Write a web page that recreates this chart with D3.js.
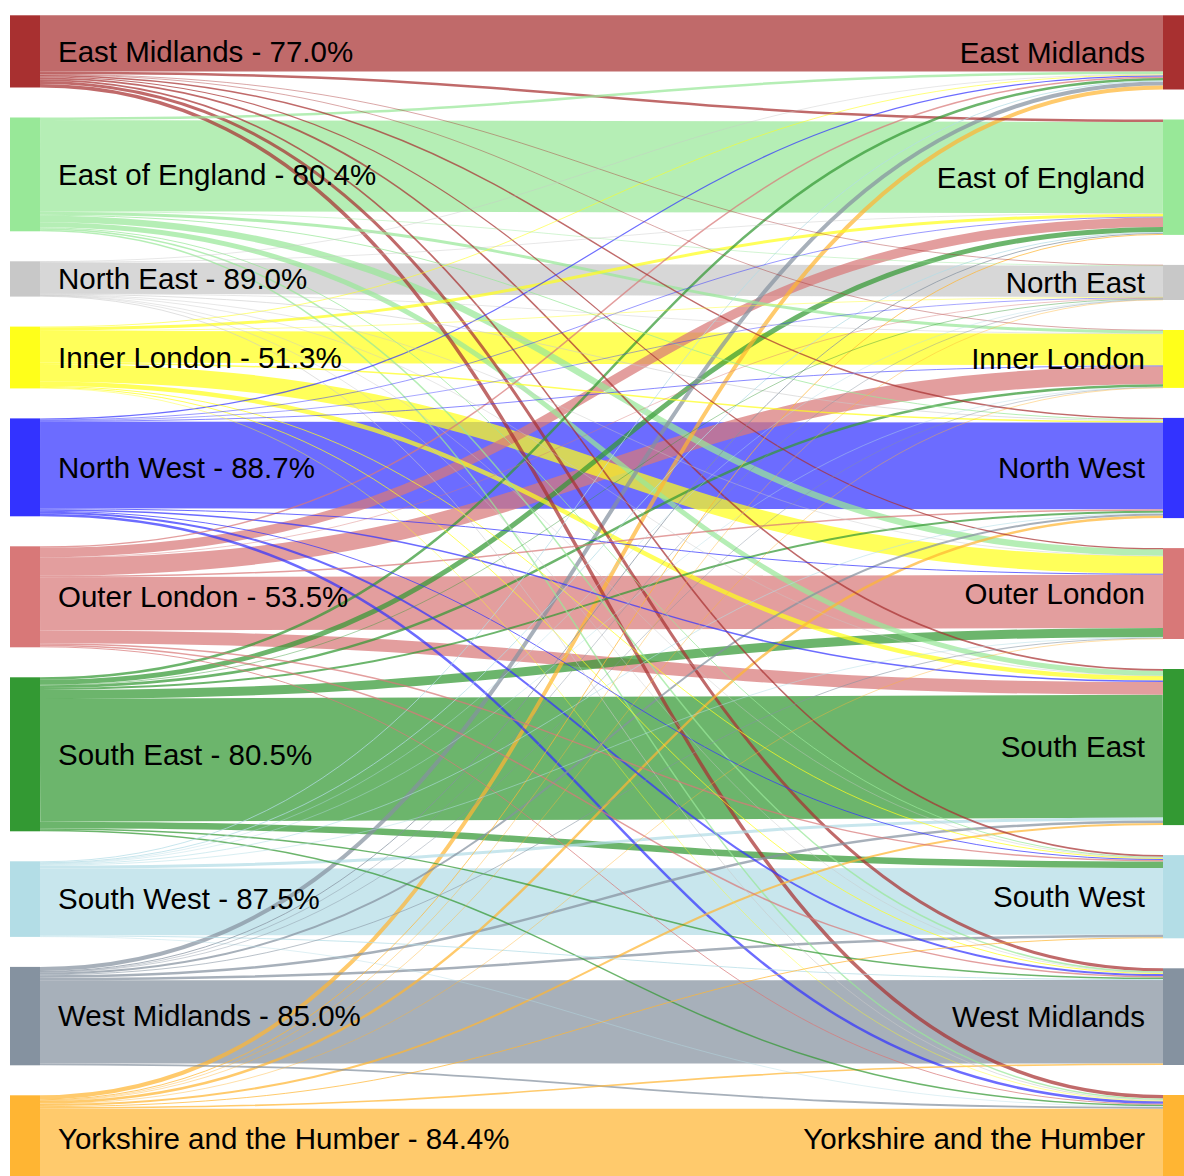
<!DOCTYPE html>
<html>
<head>
<meta charset="utf-8">
<script src="https://cdn.jsdelivr.net/npm/d3@7"></script>
<style>
  body { margin: 0; background: #fff; }
  svg text { font-family: "Liberation Sans", Arial, sans-serif; }
</style>
</head>
<body>
<div id="chart-area"></div>
<script>
/* Regions, in the order they are stacked (same order on both sides) */
var regions = ["East Midlands", "East of England", "North East", "Inner London", "North West",
    "Outer London", "South East", "South West", "West Midlands", "Yorkshire and the Humber"];

/* Share that stays in the same region, as printed on the left labels */
var retention = [77.0, 80.4, 89.0, 51.3, 88.7, 53.5, 80.5, 87.5, 85.0, 84.4];

/* Node colours, one per region */
var colors = ["#a83030", "#98e898", "#c8c8c8", "#ffff1a", "#3333ff",
    "#d87878", "#339933", "#b3dde6", "#8592a0", "#ffb533"];

/* Flows from each region (row) to every region (same order as regions) */
var fromEastMidlands = [56.2, 2.5, 0.5, 0.5, 1.4, 1.2, 1.7, 1.7, 3.0, 3.5];
var fromEastOfEngland = [2.5, 91.2, 0.6, 3.0, 1.0, 6.5, 5.0, 1.0, 1.5, 1.5];
var fromNorthEast = [0.5, 0.5, 31.2, 0.3, 0.8, 0.4, 0.3, 0.2, 0.3, 0.8];
var fromInnerLondon = [0.8, 3.0, 0.3, 31.7, 1.5, 17.5, 4.5, 1.0, 1.0, 0.5];
var fromNorthWest = [1.2, 0.7, 0.5, 0.8, 86.7, 1.0, 1.5, 1.0, 2.0, 2.5];
var fromOuterLondon = [1.5, 9.5, 0.5, 18.0, 1.5, 53.3, 12.7, 1.5, 1.5, 1.0];
var fromSouthEast = [2.5, 5.0, 0.6, 2.5, 2.0, 9.0, 122.9, 6.5, 1.5, 1.5];
var fromSouthWest = [1.0, 1.0, 0.2, 0.5, 0.8, 0.7, 3.0, 66.8, 1.0, 0.6];
var fromWestMidlands = [4.0, 1.0, 0.2, 0.3, 2.0, 0.8, 2.5, 2.5, 83.3, 1.8];
var fromYorkshire = [4.0, 1.0, 0.5, 0.3, 2.5, 0.5, 2.0, 1.0, 1.6, 74.3];

var flows = [fromEastMidlands, fromEastOfEngland, fromNorthEast, fromInnerLondon, fromNorthWest,
    fromOuterLondon, fromSouthEast, fromSouthWest, fromWestMidlands, fromYorkshire];

/* Layout sizes */
var width = 1184;
var height = 1176;
var nodeWidth = 30;
var nodePadding = 30;
var chartTop = 15.3;
var chartBottom = 1183;
var leftX = 10;
var rightX = 1163;

var svg = d3.select("#chart-area")
    .append("svg")
    .attr("width", width)
    .attr("height", height);

/* Totals for each side */
var outTotals = flows.map(row => d3.sum(row));
var inTotals = regions.map((r, j) => d3.sum(flows, row => row[j]));
var grand = d3.sum(outTotals);

var ky = d3.scaleLinear()
    .domain([0, grand])
    .range([0, chartBottom - chartTop - nodePadding * (regions.length - 1)]);

/* Stack the nodes in each column */
function stack(totals) {
    var y = chartTop;
    return totals.map(function(v) {
        var n = { y0: y, y1: y + ky(v) };
        y = n.y1 + nodePadding;
        return n;
    });
}
var leftNodes = stack(outTotals);
var rightNodes = stack(inTotals);

/* Build the links, placing them inside each node by the order of the other end */
var links = [];
var srcOffset = leftNodes.map(n => n.y0);
var tgtOffset = rightNodes.map(n => n.y0);
flows.forEach(function(row, i) {
    row.forEach(function(v, j) {
        links.push({ source: i, target: j, value: v, width: ky(v) });
    });
});
/* source side: ordered by target */
d3.range(regions.length).forEach(function(i) {
    links.filter(l => l.source === i).forEach(function(l) {
        l.ys = srcOffset[i] + l.width / 2;
        srcOffset[i] += l.width;
    });
});
/* target side: ordered by source */
d3.range(regions.length).forEach(function(j) {
    links.filter(l => l.target === j).forEach(function(l) {
        l.yt = tgtOffset[j] + l.width / 2;
        tgtOffset[j] += l.width;
    });
});

var linkPath = d3.linkHorizontal();

/* Links, widest first so the thin ones stay visible */
svg.append("g")
    .attr("fill", "none")
    .selectAll("path")
    .data(links.slice().sort((a, b) => b.width - a.width))
    .enter().append("path")
    .attr("d", d => linkPath({ source: [leftX + nodeWidth, d.ys], target: [rightX, d.yt] }))
    .attr("stroke", d => colors[d.source])
    .attr("stroke-opacity", 0.72)
    .attr("stroke-width", d => Math.max(0.6, d.width));

/* Nodes */
svg.append("g")
    .selectAll("rect")
    .data(leftNodes)
    .enter().append("rect")
    .attr("x", leftX)
    .attr("y", d => d.y0)
    .attr("width", nodeWidth)
    .attr("height", d => d.y1 - d.y0)
    .attr("fill", (d, i) => colors[i]);

svg.append("g")
    .selectAll("rect")
    .data(rightNodes)
    .enter().append("rect")
    .attr("x", rightX)
    .attr("y", d => d.y0)
    .attr("width", nodeWidth)
    .attr("height", d => d.y1 - d.y0)
    .attr("fill", (d, i) => colors[i]);

/* Labels */
svg.append("g")
    .selectAll("text")
    .data(leftNodes)
    .enter().append("text")
    .attr("x", leftX + nodeWidth + 18)
    .attr("y", d => (d.y0 + d.y1) / 2)
    .attr("dy", "0.35em")
    .style("font-size", "29.5px")
    .attr("fill", "#000")
    .text((d, i) => regions[i] + " - " + retention[i].toFixed(1) + "%");

svg.append("g")
    .selectAll("text")
    .data(rightNodes)
    .enter().append("text")
    .attr("x", rightX - 18)
    .attr("y", d => (d.y0 + d.y1) / 2)
    .attr("dy", "0.35em")
    .attr("text-anchor", "end")
    .style("font-size", "29.5px")
    .attr("fill", "#000")
    .text((d, i) => regions[i]);
</script>
</body>
</html>
